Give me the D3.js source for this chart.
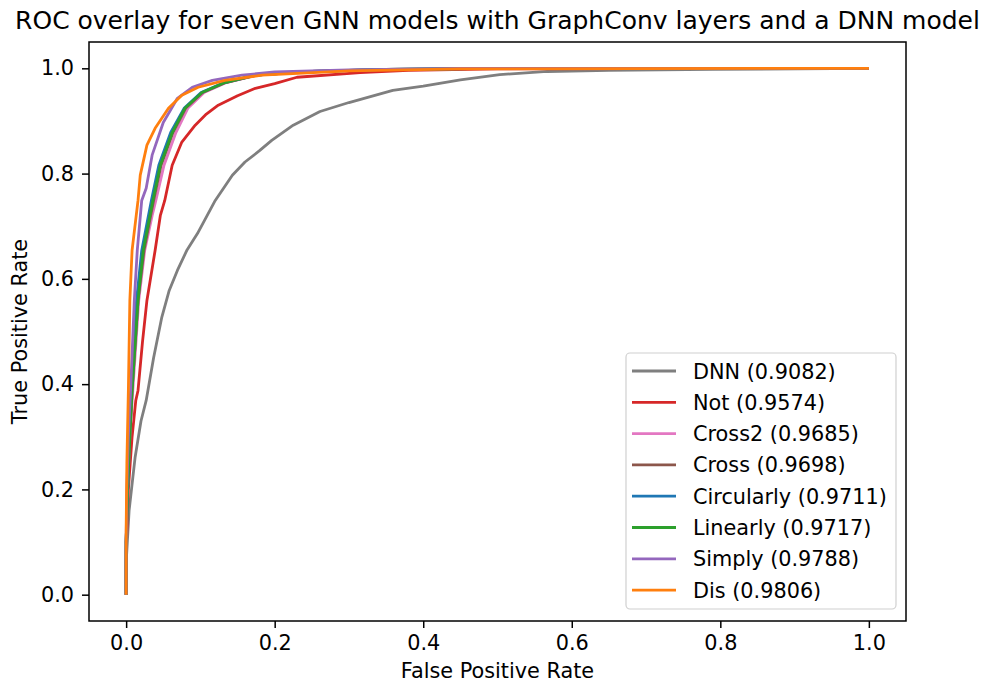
<!DOCTYPE html>
<html>
<head>
<meta charset="utf-8">
<script src="https://cdn.jsdelivr.net/npm/d3@7"></script>
<style>
  body { margin: 0; background: #fff; }
  text { font-family: "DejaVu Sans", sans-serif; fill: #000; }
</style>
</head>
<body>
<div id="chart"></div>
<script>
// ---- data (fpr, tpr pairs) ----
let seriesNames = ["DNN", "Not", "Cross2", "Cross", "Circularly", "Linearly", "Simply", "Dis"];
let aucValues = ["0.9082", "0.9574", "0.9685", "0.9698", "0.9711", "0.9717", "0.9788", "0.9806"];
let seriesColors = ["#7f7f7f", "#d62728", "#e377c2", "#8c564b", "#1f77b4", "#2ca02c", "#9467bd", "#ff7f0e"];

let dnnFpr = [0, 0.0, 0.004, 0.012, 0.020, 0.027, 0.037, 0.048, 0.058, 0.069, 0.082, 0.096, 0.120, 0.143, 0.160, 0.180, 0.196, 0.225, 0.261, 0.30, 0.359, 0.40, 0.45, 0.503, 0.567, 0.65, 0.79, 1.0];
let dnnTpr = [0, 0.06, 0.16, 0.26, 0.33, 0.369, 0.45, 0.527, 0.578, 0.616, 0.655, 0.686, 0.749, 0.797, 0.822, 0.844, 0.863, 0.892, 0.918, 0.935, 0.958, 0.966, 0.978, 0.988, 0.994, 0.996, 0.998, 1.0];

let notFpr = [0, 0.0, 0.003, 0.008, 0.013, 0.016, 0.022, 0.028, 0.039, 0.046, 0.052, 0.062, 0.075, 0.093, 0.108, 0.124, 0.150, 0.174, 0.20, 0.23, 0.315, 0.38, 0.5, 1.0];
let notTpr = [0, 0.08, 0.2, 0.3, 0.369, 0.388, 0.48, 0.559, 0.654, 0.72, 0.749, 0.816, 0.86, 0.892, 0.913, 0.930, 0.948, 0.962, 0.971, 0.983, 0.992, 0.996, 0.999, 1.0];

let cross2Fpr = [0, 0.0, 0.002, 0.005, 0.009, 0.017, 0.025, 0.035, 0.040, 0.051, 0.067, 0.083, 0.105, 0.135, 0.176, 0.25, 0.35, 0.5, 1.0];
let cross2Tpr = [0, 0.1, 0.2, 0.3, 0.388, 0.559, 0.654, 0.72, 0.749, 0.816, 0.878, 0.924, 0.954, 0.973, 0.987, 0.994, 0.998, 1.0, 1.0];

let crossFpr = [0, 0.0, 0.002, 0.005, 0.008, 0.016, 0.024, 0.033, 0.037, 0.047, 0.063, 0.080, 0.103, 0.134, 0.175, 0.25, 0.35, 0.5, 1.0];
let crossTpr = [0, 0.1, 0.2, 0.3, 0.388, 0.559, 0.654, 0.72, 0.749, 0.816, 0.878, 0.924, 0.954, 0.973, 0.987, 0.994, 0.998, 1.0, 1.0];

let circFpr = [0, 0.0, 0.002, 0.004, 0.007, 0.014, 0.021, 0.030, 0.034, 0.044, 0.060, 0.078, 0.101, 0.132, 0.174, 0.25, 0.35, 0.5, 1.0];
let circTpr = [0, 0.1, 0.2, 0.3, 0.388, 0.559, 0.654, 0.72, 0.749, 0.816, 0.878, 0.924, 0.954, 0.973, 0.987, 0.994, 0.998, 1.0, 1.0];

let linFpr = [0, 0.0, 0.002, 0.005, 0.008, 0.016, 0.023, 0.032, 0.036, 0.046, 0.062, 0.079, 0.102, 0.133, 0.174, 0.25, 0.35, 0.5, 1.0];
let linTpr = [0, 0.1, 0.2, 0.3, 0.388, 0.559, 0.654, 0.72, 0.749, 0.816, 0.878, 0.924, 0.954, 0.973, 0.987, 0.994, 0.998, 1.0, 1.0];

let simplyFpr = [0, 0.0, 0.001, 0.003, 0.006, 0.011, 0.015, 0.021, 0.027, 0.035, 0.050, 0.069, 0.089, 0.116, 0.156, 0.20, 0.30, 0.45, 1.0];
let simplyTpr = [0, 0.1, 0.2, 0.3, 0.388, 0.559, 0.654, 0.749, 0.772, 0.835, 0.897, 0.943, 0.964, 0.977, 0.987, 0.993, 0.997, 1.0, 1.0];

let disFpr = [0, 0.0, 0.001, 0.003, 0.005, 0.008, 0.016, 0.019, 0.028, 0.039, 0.057, 0.075, 0.097, 0.133, 0.183, 0.30, 0.45, 1.0];
let disTpr = [0, 0.12, 0.25, 0.388, 0.559, 0.654, 0.749, 0.797, 0.854, 0.886, 0.924, 0.949, 0.964, 0.977, 0.987, 0.995, 0.999, 1.0];

let xTicks = [0, 0.2, 0.4, 0.6, 0.8, 1.0];
let yTicks = [0, 0.2, 0.4, 0.6, 0.8, 1.0];

let fprList = [dnnFpr, notFpr, cross2Fpr, crossFpr, circFpr, linFpr, simplyFpr, disFpr];
let tprList = [dnnTpr, notTpr, cross2Tpr, crossTpr, circTpr, linTpr, simplyTpr, disTpr];

// ---- layout ----
var W = 983, H = 683;
var box = {left: 89, right: 906, top: 42, bottom: 621};
var fs = 20.8;

var svg = d3.select("#chart").append("svg")
  .attr("width", W).attr("height", H);

var x = d3.scaleLinear().domain([-0.05, 1.05]).range([box.left, box.right]);
var y = d3.scaleLinear().domain([-0.05, 1.05]).range([box.bottom, box.top]);

// curves
var line = d3.line().x(d => x(d[0])).y(d => y(d[1]));
for (let i = 0; i < seriesNames.length; ++i) {
  let pts = fprList[i].map((f, k) => [f, tprList[i][k]]);
  svg.append("path")
    .datum(pts)
    .attr("fill", "none")
    .attr("stroke", seriesColors[i])
    .attr("stroke-width", 2.8)
    .attr("stroke-linejoin", "round")
    .attr("d", line);
}

// axes
var xAxis = svg.append("g")
  .attr("transform", "translate(0," + box.bottom + ")")
  .call(d3.axisBottom(x).tickValues(xTicks).tickFormat(d3.format(".1f")).tickSize(7).tickPadding(7));
var yAxis = svg.append("g")
  .attr("transform", "translate(" + box.left + ",0)")
  .call(d3.axisLeft(y).tickValues(yTicks).tickFormat(d3.format(".1f")).tickSize(7).tickPadding(8));
[xAxis, yAxis].forEach(g => {
  g.select(".domain").remove();
  g.selectAll(".tick line").attr("stroke", "#000").attr("stroke-width", 1.5);
  g.selectAll(".tick text").attr("font-size", fs).attr("font-family", "DejaVu Sans").attr("fill", "#000");
});

// frame
svg.append("rect")
  .attr("x", box.left).attr("y", box.top)
  .attr("width", box.right - box.left).attr("height", box.bottom - box.top)
  .attr("fill", "none").attr("stroke", "#000").attr("stroke-width", 1.5);

// labels
svg.append("text")
  .attr("x", (box.left + box.right) / 2).attr("y", 29)
  .attr("text-anchor", "middle").attr("font-size", 25)
  .text("ROC overlay for seven GNN models with GraphConv layers and a DNN model");
svg.append("text")
  .attr("x", (box.left + box.right) / 2).attr("y", 678)
  .attr("text-anchor", "middle").attr("font-size", fs)
  .text("False Positive Rate");
svg.append("text")
  .attr("transform", "translate(27," + (box.top + box.bottom) / 2 + ") rotate(-90)")
  .attr("text-anchor", "middle").attr("font-size", fs)
  .text("True Positive Rate");

// legend
var leg = svg.append("g");
leg.append("rect")
  .attr("x", 626).attr("y", 353).attr("width", 270).attr("height", 256)
  .attr("rx", 4).attr("fill", "#fff").attr("fill-opacity", 0.8)
  .attr("stroke", "#d0d0d0").attr("stroke-width", 1.2);
for (let i = 0; i < seriesNames.length; ++i) {
  let cy = 371 + i * 31.3;
  leg.append("line")
    .attr("x1", 632).attr("x2", 676).attr("y1", cy).attr("y2", cy)
    .attr("stroke", seriesColors[i]).attr("stroke-width", 2.8);
  leg.append("text")
    .attr("x", 693).attr("y", cy + 7.5).attr("font-size", fs)
    .text(seriesNames[i] + " (" + aucValues[i] + ")");
}
</script>
</body>
</html>
